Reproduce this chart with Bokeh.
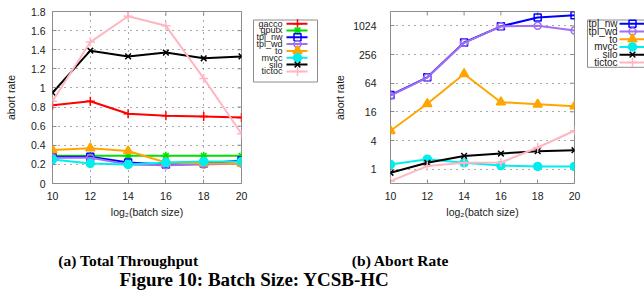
import math
from bokeh.plotting import figure
from bokeh.layouts import row, column
from bokeh.models import Range1d, FixedTicker, Label
from bokeh.core.properties import value
from bokeh.embed import file_html
from bokeh.resources import INLINE

# ---------------- data ----------------
batch_log2 = [10, 12, 14, 16, 18, 20]

a_names = ["gacco", "gputx", "tpl_nw", "tpl_wd", "to", "mvcc", "silo", "tictoc"]
a_gacco = [0.82, 0.86, 0.73, 0.71, 0.70, 0.69]
a_gputx = [0.29, 0.29, 0.29, 0.29, 0.29, 0.29]
a_tpl_nw = [0.28, 0.28, 0.22, 0.20, 0.21, 0.24]
a_tpl_wd = [0.27, 0.27, 0.20, 0.19, 0.20, 0.21]
a_to = [0.35, 0.37, 0.34, 0.22, 0.21, 0.21]
a_mvcc = [0.25, 0.21, 0.20, 0.22, 0.23, 0.23]
a_silo = [0.95, 1.39, 1.33, 1.37, 1.31, 1.33]
a_tictoc = [0.86, 1.48, 1.75, 1.65, 1.10, 0.52]
a_yticks = [0, 0.2, 0.4, 0.6, 0.8, 1, 1.2, 1.4, 1.6, 1.8]
a_ylabels = ["0", "0.2", "0.4", "0.6", "0.8", "1", "1.2", "1.4", "1.6", "1.8"]

b_names = ["tpl_nw", "tpl_wd", "to", "mvcc", "silo", "tictoc"]
b_tpl_nw = [36, 85, 457, 1000, 1530, 1710]
b_tpl_wd = [35, 84, 450, 1000, 1024, 816]
b_to = [6.4, 23.6, 100, 25.5, 23, 21]
b_mvcc = [1.25, 1.62, 1.36, 1.19, 1.14, 1.14]
b_silo = [0.84, 1.36, 1.9, 2.13, 2.39, 2.5]
b_tictoc = [0.56, 1.16, 1.36, 1.38, 2.85, 6.4]
b_yticks = [1, 4, 16, 64, 256, 1024]
b_ylabels = ["1", "4", "16", "64", "256", "1024"]

x_label = "log\u2082(batch size)"
y_label = "abort rate"
cap_a = "(a) Total Throughput"
cap_b = "(b) Abort Rate"
cap_fig = "Figure 10: Batch Size: YCSB-HC"

a_data = dict(gacco=a_gacco, gputx=a_gputx, tpl_nw=a_tpl_nw, tpl_wd=a_tpl_wd,
              to=a_to, mvcc=a_mvcc, silo=a_silo, tictoc=a_tictoc)
b_data = dict(tpl_nw=b_tpl_nw, tpl_wd=b_tpl_wd, to=b_to, mvcc=b_mvcc,
              silo=b_silo, tictoc=b_tictoc)

# ---------------- style ----------------
FONT = "Liberation Sans"
SERIF = "Liberation Serif"
FRAME = "#8c8c8c"
GRID = "#555555"
TXT = "#1a1a1a"
styles = {
    "gacco": dict(color="#ff0000", marker="cross", fill=False, size=9),
    "gputx": dict(color="#00e000", marker="asterisk", fill=False, size=8),
    "tpl_nw": dict(color="#0000ff", marker="square", fill=False, size=7),
    "tpl_wd": dict(color="#a070f0", marker="circle", fill=False, size=7),
    "to": dict(color="#ffa500", marker="triangle", fill=True, size=9),
    "mvcc": dict(color="#00eeee", marker="circle", fill=True, size=8),
    "silo": dict(color="#000000", marker="x", fill=False, size=8),
    "tictoc": dict(color="#ffb6c1", marker="cross", fill=False, size=9),
}

PH = 222          # height of plot row (page starts at y=0)


def draw_series(p, xs, ys, name):
    s = styles[name]
    p.line(xs, ys, line_color=s["color"], line_width=2)
    p.scatter(xs, ys, marker=s["marker"], size=s["size"], line_color=s["color"],
              fill_color=s["color"] if s["fill"] else None, line_width=1.5)


def make_plot(width, bl, br, ykind, yrange, yticks, ylabels, data, names, vgrid,
              y_standoff, y_label_standoff):
    p = figure(width=width, height=PH, x_range=Range1d(10, 20), y_range=yrange,
               y_axis_type=ykind, output_backend="svg", toolbar_location=None,
               min_border_left=bl, min_border_right=br, min_border_top=11,
               min_border_bottom=39, outline_line_color=FRAME, outline_line_width=1,
               background_fill_color="white", border_fill_color="white")
    xt = FixedTicker(ticks=batch_log2)
    yt = FixedTicker(ticks=yticks)
    for ax in p.xaxis:
        ax.ticker = xt
        ax.major_label_standoff = 8
        ax.axis_label = x_label
        ax.axis_label_standoff = 3
    for ax in p.yaxis:
        ax.ticker = yt
        ax.major_label_overrides = {t: l for t, l in zip(yticks, ylabels)}
        ax.major_label_standoff = y_standoff
        ax.axis_label = y_label
        ax.axis_label_standoff = y_label_standoff
    for ax in list(p.xaxis) + list(p.yaxis):
        ax.axis_line_color = None
        ax.major_tick_in = 4
        ax.major_tick_out = 0
        ax.major_tick_line_color = FRAME
        ax.minor_tick_line_color = None
        ax.major_label_text_font = FONT
        ax.major_label_text_font_size = "10.5px"
        ax.major_label_text_color = TXT
        ax.axis_label_text_font = FONT
        ax.axis_label_text_font_size = "10.5px"
        ax.axis_label_text_font_style = "normal"
        ax.axis_label_text_color = TXT

    p.ygrid.ticker = yt
    p.ygrid.grid_line_color = GRID
    p.ygrid.grid_line_dash = "1 5"
    p.ygrid.grid_line_width = 1
    if vgrid:
        p.xgrid.ticker = xt
        p.xgrid.grid_line_color = GRID
        p.xgrid.grid_line_dash = "1 5"
        p.xgrid.grid_line_width = 1
    else:
        p.xgrid.visible = False

    # mirrored inward ticks on top and right edges (half of each dash is clipped)
    p.scatter(batch_log2, [yrange.end] * len(batch_log2), marker="dash", size=8,
              angle=math.pi / 2, line_color=FRAME, line_width=1)
    p.scatter([20] * len(yticks), yticks, marker="dash", size=8,
              line_color=FRAME, line_width=1)

    for n in names:
        draw_series(p, batch_log2, data[n], n)
    return p


def make_legend(x0, width, names, box, text_x, line_x0, line_x1, mark_x, row0, drow, fs):
    f = figure(width=width, height=PH, x_range=Range1d(x0, x0 + width),
               y_range=Range1d(PH, 0), output_backend="svg",
               toolbar_location=None, x_axis_location=None, y_axis_location=None,
               min_border=0, outline_line_color=None,
               background_fill_color="white", border_fill_color="white")
    f.grid.visible = False
    f.quad(left=box[0], right=box[1], top=box[2], bottom=box[3],
           fill_color="white", line_color=FRAME, line_width=1)
    for i, n in enumerate(names):
        s = styles[n]
        y = row0 + i * drow
        f.line([line_x0, line_x1], [y, y], line_color=s["color"], line_width=2)
        f.scatter([mark_x], [y], marker=s["marker"], size=s["size"], line_color=s["color"],
                  fill_color=s["color"] if s["fill"] else None, line_width=1.5)
        f.text(x=[text_x], y=[y], text=[n], text_align="right", text_baseline="middle",
               text_font=value(FONT), text_font_size=fs, text_color=TXT)
    return f


p1 = make_plot(250, 52, 9, "linear", Range1d(0, 1.8), a_yticks, a_ylabels,
               a_data, a_names, True, 7, 11)
l1 = make_legend(250, 72, a_names, (253, 317, 11, 91), 282, 286, 307, 297, 15.7, 8.8, "9px")
p2 = make_plot(260, 68, 8, "log", Range1d(0.5, 2048), b_yticks, b_ylabels,
               b_data, b_names, False, 14, 4)
l2 = make_legend(582, 62, b_names, (587, 700, 11, 72), 617, 619, 700, 632, 15.7, 10, "10px")

cap = figure(width=644, height=77, x_range=Range1d(0, 644), y_range=Range1d(299, 222),
             output_backend="svg", toolbar_location=None, x_axis_location=None,
             y_axis_location=None, min_border=0, outline_line_color=None,
             background_fill_color="white", border_fill_color="white")
cap.grid.visible = False
cap.add_layout(Label(x=128, y=260, text=cap_a, text_align="center", text_baseline="alphabetic",
                     text_font=SERIF, text_font_size="15.5px", text_font_style="bold",
                     text_color="black"))
cap.add_layout(Label(x=400, y=260, text=cap_b, text_align="center", text_baseline="alphabetic",
                     text_font=SERIF, text_font_size="15.5px", text_font_style="bold",
                     text_color="black"))
cap.add_layout(Label(x=254, y=279, text=cap_fig, text_align="center", text_baseline="alphabetic",
                     text_font=SERIF, text_font_size="19px", text_font_style="bold",
                     text_color="black"))

layout = column(row(p1, l1, p2, l2, spacing=0), cap, spacing=0)
open("out.html", "w").write(file_html(layout, INLINE))
